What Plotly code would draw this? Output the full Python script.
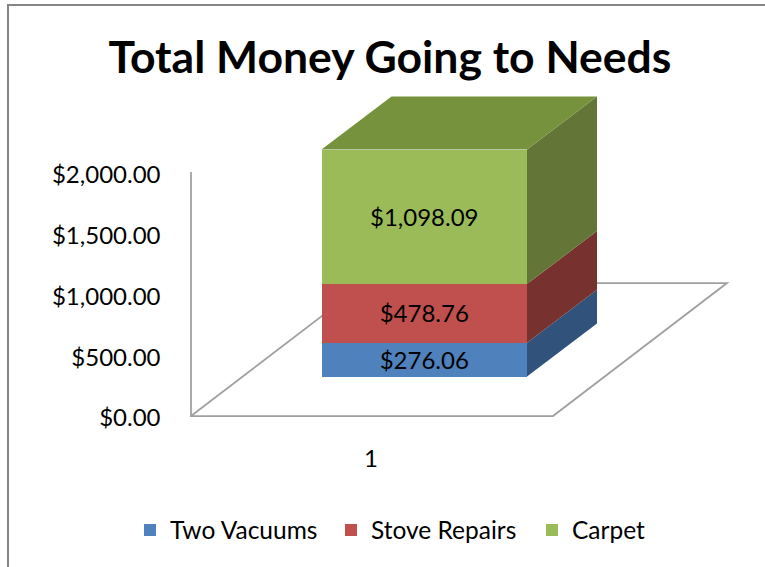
import plotly.graph_objects as go

# Data
categories = [1]
series_names = ["Two Vacuums", "Stove Repairs", "Carpet"]
series_values = [276.06, 478.76, 1098.09]
label_texts = ["$276.06", "$478.76", "$1,098.09"]
y_ticks = [0, 500, 1000, 1500, 2000]
y_tick_labels = ["$0.00", "$500.00", "$1,000.00", "$1,500.00", "$2,000.00"]

# Style
front = ["#4F81BD", "#C0504D", "#9BBB59"]
side = ["#31527A", "#77312E", "#637637"]
top_color = "#76923C"
W, H = 765, 567
FONT = "Lato"
TXT = "#000000"
GREY = "#A0A0A0"

# Scales (px per unit)
PX_X = 205.5
PX_Y = 0.1225
CX, BASE = 424.25, 376.5
DEPTH_X = 70 / PX_X
DEPTH_Y = 53 / PX_Y
HALF = 0.5
LABEL_SHIFT = 3 / PX_Y

fig = go.Figure()
cum = 0
for i, (name, v) in enumerate(zip(series_names, series_values)):
    fig.add_trace(go.Bar(x=categories, y=[v], name=name, width=1, marker=dict(color=front[i], line=dict(width=0)),
                         hoverinfo="skip"))
for i, v in enumerate(series_values):
    c = categories[0]
    x0 = c + HALF
    x1 = x0 + DEPTH_X
    fig.add_trace(go.Scatter(x=[x0, x1, x1, x0, x0], y=[cum, cum + DEPTH_Y, cum + v + DEPTH_Y, cum + v, cum],
                             mode="lines", fill="toself", fillcolor=side[i], line=dict(width=0),
                             showlegend=False, hoverinfo="skip"))
    fig.add_trace(go.Scatter(x=[c], y=[cum + v / 2 - LABEL_SHIFT], mode="text", text=[label_texts[i]],
                             textposition="middle center", textfont=dict(family=FONT, size=24, color=TXT),
                             showlegend=False, hoverinfo="skip"))
    cum += v
c = categories[0]
fig.add_trace(go.Scatter(x=[c - HALF, c + HALF, c + HALF + DEPTH_X, c - HALF + DEPTH_X, c - HALF],
                         y=[cum, cum, cum + DEPTH_Y, cum + DEPTH_Y, cum],
                         mode="lines", fill="toself", fillcolor=top_color, line=dict(width=0),
                         showlegend=False, hoverinfo="skip"))
# Invisible trace activating the label axes
fig.add_trace(go.Scatter(x=categories, y=[0], xaxis="x2", yaxis="y2", mode="markers",
                         marker=dict(opacity=0), showlegend=False, hoverinfo="skip"))

def px(x): return x / W
def py(y): return 1 - y / H

shapes = [
    dict(type="path", xref="paper", yref="paper", layer="below",
         path=f"M{px(191)},{py(172)} L{px(191)},{py(416)} L{px(553)},{py(416)} L{px(727)},{py(283)} L{px(365)},{py(283)} L{px(191)},{py(416)}",
         line=dict(color=GREY, width=1.75)),
    dict(type="rect", xref="paper", yref="paper", layer="below", x0=px(8), x1=px(800), y0=py(600), y1=py(5),
         line=dict(color="#868686", width=2)),
]

fig.update_layout(
    width=W, height=H, margin=dict(l=0, r=0, t=0, b=0), autosize=False,
    paper_bgcolor="white", plot_bgcolor="rgba(0,0,0,0)", barmode="stack",
    title=dict(text="<b>Total Money Going to Needs</b>", x=390 / W, xanchor="center", y=py(57), yanchor="middle",
               font=dict(family=FONT, size=44.5, color=TXT)),
    xaxis=dict(range=[1 - CX / PX_X, 1 + (W - CX) / PX_X], visible=False, fixedrange=True),
    yaxis=dict(range=[-(H - BASE) / PX_Y, BASE / PX_Y], visible=False, fixedrange=True),
    xaxis2=dict(overlaying="x", anchor="free", position=py(442), range=[1 - 371 / PX_X, 1 + (W - 371) / PX_X],
                tickmode="array", tickvals=categories, ticktext=[str(v) for v in categories], ticks="",
                showgrid=False, zeroline=False, showline=False, tickfont=dict(family=FONT, size=24, color=TXT)),
    yaxis2=dict(overlaying="y", anchor="free", position=px(160.5), side="left",
                range=[-(H - 418) / 0.1215, 418 / 0.1215],
                tickmode="array", tickvals=y_ticks, ticktext=y_tick_labels, ticks="",
                showgrid=False, zeroline=False, showline=False, tickfont=dict(family=FONT, size=24, color=TXT)),
    legend=dict(orientation="h", x=px(130), y=py(530), yanchor="middle", xanchor="left", traceorder="normal",
                itemwidth=30, entrywidth=156, entrywidthmode="pixels",
                font=dict(family=FONT, size=24.5, color=TXT), bgcolor="rgba(0,0,0,0)"),
    shapes=shapes,
)
fig.write_html("out.html", config={"displayModeBar": False}, post_script="document.body.style.margin='0';")
